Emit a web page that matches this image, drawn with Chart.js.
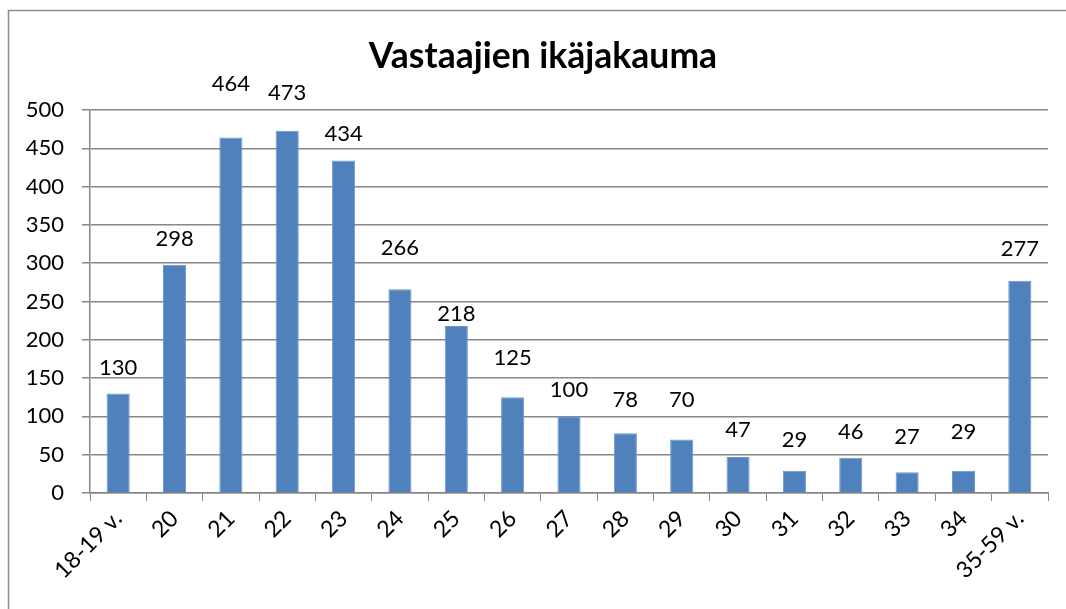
<!DOCTYPE html>
<html>
<head>
<meta charset="utf-8">
<script src="https://cdn.jsdelivr.net/npm/chart.js@4"></script>
<style>
  html, body { margin:0; padding:0; background:#fff; }
  #wrap { width:1066px; height:609px; }
</style>
</head>
<body>
<div id="wrap"><canvas id="ageChart" width="1066" height="609"></canvas></div>
<script>
// ikäryhmät ja vastaajamäärät
const chartTitle = "Vastaajien ikäjakauma";
const ageGroups = ["18-19 v.", "20", "21", "22", "23", "24", "25", "26", "27", "28", "29", "30", "31", "32", "33", "34", "35-59 v."];
const respondents = [130, 298, 464, 473, 434, 266, 218, 125, 100, 78, 70, 47, 29, 46, 27, 29, 277];
const yTicks = [0, 50, 100, 150, 200, 250, 300, 350, 400, 450, 500];

// label lift above each bar (px), labels were hand-placed in the original
const labelLift = [26, 26, 54, 38, 27, 41, 12, 39, 26, 33, 39, 27, 31, 26, 35, 39, 32];

const FONT = "Lato, 'Open Sans', sans-serif";
const GRID = "#878787";

const valueLabels = {
  id: "valueLabels",
  afterDatasetsDraw(chart){
    const ctx = chart.ctx;
    const meta = chart.getDatasetMeta(0);
    ctx.save();
    ctx.font = "22px " + FONT;
    ctx.fillStyle = "#000";
    ctx.textAlign = "center";
    ctx.textBaseline = "middle";
    meta.data.forEach((bar, i) => {
      ctx.fillText(String(respondents[i]), bar.x, bar.y - labelLift[i]);
    });
    ctx.restore();
  }
};

// frame + title (title sits a bit right of the plot centre, as in the original)
const frame = {
  id: "frame",
  afterDraw(chart){
    const ctx = chart.ctx;
    ctx.save();
    ctx.strokeStyle = "#8c8c8c";
    ctx.lineWidth = 1.5;
    ctx.beginPath();
    ctx.moveTo(8.5, 620);
    ctx.lineTo(8.5, 10.5);
    ctx.lineTo(1080, 10.5);
    ctx.stroke();

    ctx.font = "bold 35.5px " + FONT;
    ctx.fillStyle = "#000";
    ctx.textAlign = "center";
    ctx.textBaseline = "middle";
    ctx.fillText(chartTitle, 543, 57);
    ctx.restore();
  }
};

new Chart(document.getElementById("ageChart"), {
  type: "bar",
  data: {
    labels: ageGroups,
    datasets: [{
      data: respondents,
      backgroundColor: "#4F81BD",
      borderColor: "#6d97c9",
      borderWidth: 1,
      barPercentage: 0.41,
      categoryPercentage: 1
    }]
  },
  options: {
    responsive: false,
    animation: false,
    layout: { padding: { left: 10, right: 18, top: 110, bottom: 0 } },
    plugins: {
      legend: { display: false },
      tooltip: { enabled: false },
      title: { display: false }
    },
    scales: {
      x: {
        afterFit(scale){ scale.height = 116; },
        grid: { drawOnChartArea: false, drawTicks: true, tickLength: 8, color: GRID, offset: true },
        border: { color: GRID, width: 1.5 },
        ticks: {
          color: "#000",
          font: { family: FONT, size: 23 },
          minRotation: 45,
          maxRotation: 45,
          autoSkip: false,
          padding: 4
        }
      },
      y: {
        min: 0,
        max: 500,
        afterFit(scale){ scale.width = 80; },
        afterBuildTicks(scale){ scale.ticks = yTicks.map(v => ({ value: v })); },
        grid: { color: GRID, lineWidth: 1.5, tickLength: 8 },
        border: { color: GRID, width: 1.5 },
        ticks: {
          color: "#000",
          font: { family: FONT, size: 22 },
          padding: 18
        }
      }
    }
  },
  plugins: [valueLabels, frame]
});
</script>
</body>
</html>
